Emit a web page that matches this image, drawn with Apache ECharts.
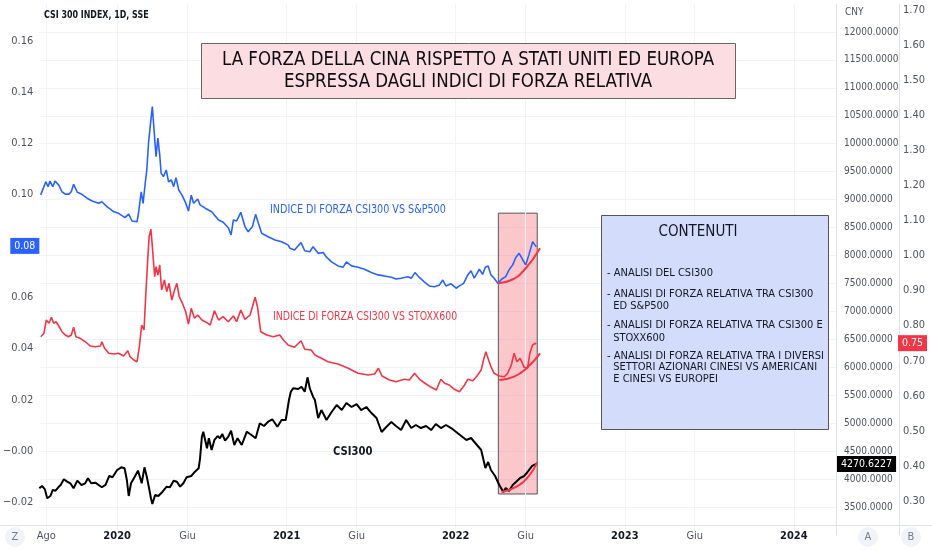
<!DOCTYPE html>
<html>
<head>
<meta charset="utf-8" />
<title>CSI 300 - forza relativa</title>
<script src="https://cdn.jsdelivr.net/npm/echarts@6/dist/echarts.min.js"></script>
<style>
  html, body { margin: 0; padding: 0; background: #fff; }
  #chartmain { width: 932px; height: 550px; }
</style>
</head>
<body>
<div id="chartmain"></div>
<script>
// ---- dati ----
var blueDates = ['2019-07-20','2019-07-31','2019-08-05','2019-08-09','2019-08-15','2019-08-20','2019-08-28','2019-09-04','2019-09-11','2019-09-19',
  '2019-09-24','2019-09-29','2019-10-07','2019-10-17','2019-10-28','2019-11-08','2019-11-22','2019-11-29','2019-12-10','2019-12-25',
  '2020-01-04','2020-01-18','2020-01-26','2020-02-02','2020-02-13','2020-02-16','2020-02-22','2020-02-26','2020-03-02','2020-03-05',
  '2020-03-09','2020-03-12','2020-03-17','2020-03-22','2020-03-25','2020-03-29','2020-04-02','2020-04-05','2020-04-10','2020-04-16',
  '2020-04-21','2020-04-27','2020-05-02','2020-05-07','2020-05-13','2020-05-20','2020-05-27','2020-06-03','2020-06-09','2020-06-14',
  '2020-06-23','2020-06-28','2020-07-09','2020-07-23','2020-08-07','2020-08-17','2020-08-28','2020-09-03','2020-09-08','2020-09-15',
  '2020-09-24','2020-10-03','2020-10-10','2020-10-19','2020-10-26','2020-11-01','2020-11-08','2020-11-22','2020-12-07','2020-12-21',
  '2021-01-04','2021-01-08','2021-01-18','2021-02-01','2021-02-09','2021-02-20','2021-02-27','2021-03-10','2021-03-21','2021-03-28',
  '2021-04-08','2021-04-22','2021-05-03','2021-05-10','2021-05-21','2021-06-04','2021-06-18','2021-07-03','2021-07-17','2021-07-31',
  '2021-08-15','2021-08-25','2021-09-05','2021-09-20','2021-09-27','2021-10-05','2021-10-15','2021-10-25','2021-11-05','2021-11-16',
  '2021-11-27','2021-12-04','2021-12-11','2021-12-22','2022-01-02','2022-01-09','2022-01-18','2022-01-27','2022-02-03','2022-02-10',
  '2022-02-21','2022-02-28','2022-03-06','2022-03-12','2022-03-18','2022-03-25','2022-04-02','2022-04-10','2022-04-19','2022-04-26',
  '2022-05-04','2022-05-11','2022-05-18','2022-05-25','2022-06-01','2022-06-08','2022-06-16','2022-06-21','2022-06-24'];
var blueVals = [0.0999,0.1050,0.1031,0.1053,0.1031,0.1053,0.1037,0.1011,0.1002,0.1002,
  0.1011,0.1040,0.1009,0.1001,0.0986,0.0975,0.0966,0.0972,0.0953,0.0933,
  0.0927,0.0910,0.0924,0.0897,0.0894,0.0927,0.1011,0.0966,0.1050,0.1096,
  0.1206,0.1259,0.1343,0.1220,0.1148,0.1220,0.1154,0.1083,0.1070,0.1096,
  0.1050,0.1057,0.1031,0.1066,0.1018,0.0998,0.0972,0.0936,0.0998,0.0966,
  0.0983,0.0960,0.0947,0.0933,0.0901,0.0892,0.0871,0.0843,0.0901,0.0897,
  0.0931,0.0875,0.0855,0.0875,0.0923,0.0888,0.0849,0.0836,0.0823,0.0816,
  0.0804,0.0791,0.0784,0.0813,0.0781,0.0777,0.0797,0.0771,0.0774,0.0756,
  0.0738,0.0722,0.0717,0.0738,0.0722,0.0717,0.0709,0.0696,0.0687,0.0683,
  0.0678,0.0671,0.0674,0.0680,0.0674,0.0696,0.0676,0.0660,0.0644,0.0641,
  0.0648,0.0667,0.0644,0.0652,0.0635,0.0644,0.0654,0.0687,0.0703,0.0674,
  0.0709,0.0689,0.0717,0.0722,0.0687,0.0674,0.0654,0.0670,0.0680,0.0706,
  0.0726,0.0756,0.0771,0.0748,0.0726,0.0765,0.0816,0.0804,0.0797];

var redDates = ['2019-07-20','2019-07-27','2019-08-01','2019-08-07','2019-08-12','2019-08-17','2019-08-22','2019-08-28','2019-09-04','2019-09-11',
  '2019-09-18','2019-09-24','2019-09-29','2019-10-04','2019-10-13','2019-10-24','2019-11-04','2019-11-15','2019-11-26','2019-11-29',
  '2019-12-05','2019-12-14','2019-12-25','2020-01-04','2020-01-15','2020-01-24','2020-01-29','2020-02-06','2020-02-13','2020-02-18',
  '2020-02-23','2020-02-28','2020-03-03','2020-03-07','2020-03-10','2020-03-14','2020-03-17','2020-03-22','2020-03-25','2020-03-29',
  '2020-04-02','2020-04-06','2020-04-12','2020-04-17','2020-04-22','2020-04-28','2020-05-04','2020-05-09','2020-05-14','2020-05-21',
  '2020-05-28','2020-06-03','2020-06-09','2020-06-16','2020-06-23','2020-07-02','2020-07-13','2020-07-20','2020-07-29','2020-08-07',
  '2020-08-17','2020-08-28','2020-09-08','2020-09-15','2020-09-24','2020-10-03','2020-10-14','2020-10-25','2020-10-30','2020-11-06',
  '2020-11-19','2020-12-03','2020-12-17','2020-12-25','2021-01-04','2021-01-18','2021-02-01','2021-02-09','2021-02-23','2021-03-03',
  '2021-03-17','2021-03-31','2021-04-22','2021-05-14','2021-06-04','2021-06-26','2021-07-10','2021-07-18','2021-07-26','2021-08-11',
  '2021-08-25','2021-09-12','2021-09-23','2021-10-04','2021-10-15','2021-10-29','2021-11-09','2021-11-20','2021-11-30','2021-12-08',
  '2021-12-18','2021-12-29','2022-01-09','2022-01-20','2022-01-27','2022-02-07','2022-02-16','2022-02-25','2022-03-02','2022-03-07',
  '2022-03-13','2022-03-18','2022-03-25','2022-04-05','2022-04-16','2022-04-23','2022-05-01','2022-05-07','2022-05-13','2022-05-20',
  '2022-05-29','2022-06-05','2022-06-10','2022-06-16','2022-06-21','2022-06-24'];
var redVals = [0.7684,0.7781,0.8160,0.8066,0.8237,0.8066,0.8112,0.7989,0.7827,0.7733,
  0.7684,0.7733,0.7952,0.7684,0.7639,0.7542,0.7419,0.7399,0.7419,0.7542,
  0.7354,0.7211,0.7191,0.7211,0.7134,0.7285,0.7114,0.7020,0.6972,0.7399,
  0.8018,0.7875,0.8922,0.9871,1.0536,1.0747,1.0251,0.9395,0.9680,0.9444,
  0.9729,0.9016,0.9301,0.8967,0.9207,0.8731,0.9016,0.9207,0.8825,0.8637,
  0.8397,0.8046,0.8494,0.8209,0.8303,0.8160,0.8084,0.8018,0.8426,0.8160,
  0.8255,0.8112,0.8275,0.8112,0.8446,0.8180,0.8303,0.8808,0.8540,0.7827,
  0.7733,0.7684,0.7733,0.7590,0.7448,0.7382,0.7570,0.7325,0.7305,0.7163,
  0.7068,0.6972,0.6906,0.6783,0.6640,0.6592,0.6621,0.6783,0.6564,0.6450,
  0.6401,0.6470,0.6450,0.6640,0.6470,0.6336,0.6241,0.6165,0.6470,0.6355,
  0.6307,0.6184,0.6116,0.6307,0.6470,0.6430,0.6564,0.6735,0.7020,0.7257,
  0.7020,0.6829,0.6640,0.6564,0.6544,0.6640,0.6877,0.7211,0.6972,0.7068,
  0.6812,0.6783,0.7211,0.7448,0.7496,0.7475];

var csiDates = ['2019-07-17','2019-07-23','2019-07-29','2019-08-03','2019-08-10','2019-08-15','2019-08-21','2019-08-27','2019-09-01','2019-09-08',
  '2019-09-15','2019-09-22','2019-09-29','2019-10-07','2019-10-16','2019-10-24','2019-10-30','2019-11-06','2019-11-15','2019-11-22',
  '2019-11-29','2019-12-07','2019-12-15','2019-12-22','2020-01-01','2020-01-10','2020-01-17','2020-01-22','2020-01-26','2020-01-31',
  '2020-02-08','2020-02-15','2020-02-20','2020-02-23','2020-02-29','2020-03-05','2020-03-10','2020-03-14','2020-03-17','2020-03-23',
  '2020-03-30','2020-04-08','2020-04-17','2020-04-24','2020-05-02','2020-05-09','2020-05-16','2020-05-23','2020-05-30','2020-06-09',
  '2020-06-17','2020-06-25','2020-06-28','2020-07-02','2020-07-05','2020-07-09','2020-07-13','2020-07-17','2020-07-23','2020-07-29',
  '2020-08-05','2020-08-10','2020-08-15','2020-08-21','2020-08-28','2020-09-03','2020-09-10','2020-09-17','2020-09-26','2020-10-07',
  '2020-10-17','2020-10-26','2020-11-04','2020-11-13','2020-11-22','2020-12-01','2020-12-12','2020-12-21','2020-12-30','2021-01-06',
  '2021-01-10','2021-01-15','2021-01-26','2021-02-02','2021-02-09','2021-02-15','2021-02-20','2021-02-27','2021-03-03','2021-03-10',
  '2021-03-17','2021-03-28','2021-04-08','2021-04-19','2021-04-30','2021-05-10','2021-05-21','2021-06-01','2021-06-11','2021-06-22',
  '2021-07-03','2021-07-14','2021-07-25','2021-08-04','2021-08-15','2021-08-25','2021-09-05','2021-09-16','2021-09-27','2021-10-07',
  '2021-10-18','2021-10-29','2021-11-09','2021-11-19','2021-11-30','2021-12-11','2021-12-22','2022-01-02','2022-01-13','2022-01-24',
  '2022-02-03','2022-02-14','2022-02-25','2022-03-06','2022-03-12','2022-03-18','2022-03-27','2022-04-05','2022-04-14','2022-04-19',
  '2022-04-26','2022-05-04','2022-05-11','2022-05-20','2022-05-29','2022-06-05','2022-06-15','2022-06-24'];
var csiVals = [3836,3877,3818,3657,3698,3806,3793,3854,3895,3997,
  3954,3925,3836,3972,3895,3925,4015,3925,3936,3895,
  3854,3895,4056,4033,4163,4211,4194,3984,3698,3925,
  4043,4151,4015,3925,4211,4043,3836,3657,3555,3716,
  3698,3775,3865,3854,3972,3954,3865,3925,4033,4056,
  4133,4194,4372,4759,4848,4848,4551,4730,4521,4700,
  4771,4730,4807,4687,4759,4866,4610,4730,4610,4848,
  4789,4730,4998,4950,5027,5070,4937,5057,5057,5415,
  5563,5624,5612,5653,5563,5821,5624,5474,5415,5093,
  5236,5057,5200,5325,5236,5361,5290,5343,5236,5290,
  5182,5093,4843,4932,5021,4950,4878,5057,4914,4968,
  4914,4950,4878,4986,4914,4968,4914,4843,4771,4700,
  4735,4628,4521,4199,4306,4163,4056,3895,3770,3841,
  3788,3895,3949,4020,4056,4127,4235,4270.6227];

// archi rossi disegnati a mano sul grafico
var blueArcDates = ['2022-04-02','2022-05-01','2022-05-29','2022-07-02'];
var blueArcVals = [0.0654,0.0667,0.0706,0.0791];
var redArcDates = ['2022-04-05','2022-05-07','2022-06-05','2022-07-02'];
var redArcVals = [0.6450,0.6544,0.6812,0.7211];
var csiArcDates = ['2022-04-10','2022-05-11','2022-06-08','2022-06-26'];
var csiArcVals = [3770,3859,4056,4306];

// rettangolo evidenziato (date, valori CNY)
var boxDates = ['2022-04-03','2022-06-26'];
var boxCny = [3734, 8758];

// etichette assi
var xTicks = ['2019-08-01','2020-01-01','2020-06-01','2021-01-01','2021-06-01','2022-01-01','2022-06-01','2023-01-01','2023-06-01','2024-01-01'];
var monthNames = {5: 'Giu', 7: 'Ago'};
var leftTicks = [-0.02, 0, 0.02, 0.04, 0.06, 0.08, 0.10, 0.12, 0.14, 0.16];
var rightTicks = [0.3, 0.4, 0.5, 0.6, 0.7, 0.8, 0.9, 1.0, 1.1, 1.2, 1.3, 1.4, 1.5, 1.6, 1.7];

var FONT = "'DejaVu Sans Condensed', 'Liberation Sans', sans-serif";
var BLUE = '#2962ff', RED = '#f23645', INK = '#131722', GREY = '#50535e';

function ts(s) {
  var p = s.split('-');
  return new Date(+p[0], +p[1] - 1, +p[2]).getTime();
}
function pairs(d, v) {
  return d.map(function (x, i) { return [ts(x), v[i]]; });
}

var myChart = echarts.init(document.getElementById('chartmain'));

var lastBlue = blueVals[blueVals.length - 1];
var lastRed = redVals[redVals.length - 1];
var lastCsi = csiVals[csiVals.length - 1];

var gridLines = xTicks.map(function (d) {
  return { xAxis: ts(d), lineStyle: { color: '#f0f3fa', width: 1, type: 'solid' }, label: { show: false } };
});

// etichetta del prezzo sull'asse (riga invisibile + label)
function priceTag(v, txt, bg, pos, dist) {
  return {
    yAxis: v, lineStyle: { color: 'rgba(0,0,0,0)', width: 0 },
    label: {
      show: true, position: pos, distance: dist, formatter: txt,
      backgroundColor: bg, color: '#ffffff', padding: [3, 4, 2, 4], fontSize: 10.5, fontFamily: FONT
    }
  };
}

function arcSeries(d, v, axis) {
  return {
    type: 'line', yAxisIndex: axis, data: pairs(d, v), smooth: true,
    showSymbol: false, silent: true, z: 4,
    lineStyle: { color: RED, width: 2 }
  };
}

// testo compresso in orizzontale (il font originale e' piu' stretto)
function note(x, y, txt, o) {
  o = o || {};
  return {
    type: 'text', x: x, y: y, scaleX: o.sx || 1, z: 20, silent: true,
    style: {
      text: txt, x: 0, y: 0, fill: o.color || INK, fontSize: o.size || 12,
      fontWeight: o.weight || 'normal', fontFamily: FONT, lineHeight: o.lh,
      textAlign: o.align || 'left', textVerticalAlign: o.va || 'middle'
    }
  };
}

var option = {
  animation: false,
  backgroundColor: '#ffffff',
  textStyle: { fontFamily: FONT },
  grid: { left: 37, right: 96, top: 4, bottom: 15 },
  xAxis: {
    // asse dei tempi come valore (timestamp) per avere le etichette personalizzate
    type: 'value', min: ts('2019-07-17'), max: ts('2024-04-01'),
    offset: -10,
    axisLine: { show: false }, axisTick: { show: false }, splitLine: { show: false },
    axisLabel: {
      customValues: xTicks.map(ts), margin: 6, fontSize: 11, color: GREY, fontFamily: FONT,
      formatter: function (v) {
        var d = new Date(v);
        if (d.getMonth() === 0) return '{y|' + d.getFullYear() + '}';
        return monthNames[d.getMonth()] || '';
      },
      rich: { y: { fontWeight: 'bold', color: INK, fontSize: 11, fontFamily: FONT } }
    }
  },
  yAxis: [
    { // indice di forza vs S&P500
      type: 'value', position: 'left', min: -0.0327, max: 0.1743,
      axisLine: { show: false }, axisTick: { show: false }, splitLine: { show: false },
      axisLabel: {
        customValues: leftTicks, margin: 6, fontSize: 11, color: GREY, fontFamily: FONT,
        formatter: function (v) { return Math.abs(v) < 1e-9 ? '\u22120.00' : v.toFixed(2).replace('-', '\u2212'); }
      }
    },
    { // CSI300 in CNY
      type: 'value', position: 'right', min: 3000, max: 12500, interval: 500,
      axisLine: { show: true, lineStyle: { color: '#e0e3eb' } }, axisTick: { show: false },
      splitLine: { show: true, showMinLine: false, showMaxLine: false, lineStyle: { color: '#f0f3fa' } },
      axisLabel: {
        margin: 8, fontSize: 10, color: GREY, fontFamily: FONT,
        showMinLabel: false, showMaxLabel: false,
        formatter: function (v) { return v.toFixed(4); }
      }
    },
    { // indice di forza vs STOXX600
      type: 'value', position: 'right', offset: 63, min: 0.2030, max: 1.7171,
      axisLine: { show: true, lineStyle: { color: '#e0e3eb' } }, axisTick: { show: false }, splitLine: { show: false },
      axisLabel: {
        customValues: rightTicks, margin: 4, fontSize: 11, color: GREY, fontFamily: FONT,
        formatter: function (v) { return v.toFixed(2); }
      }
    }
  ],
  series: [
    {
      name: 'INDICE DI FORZA CSI300 VS S&P500', type: 'line', yAxisIndex: 0,
      data: pairs(blueDates, blueVals), showSymbol: false, z: 3,
      lineStyle: { color: BLUE, width: 1.6 },
      markLine: {
        silent: true, symbol: 'none', z: 1,
        data: gridLines.concat([priceTag(lastBlue, lastBlue.toFixed(2), BLUE, 'start', 0)])
      }
    },
    {
      name: 'INDICE DI FORZA CSI300 VS STOXX600', type: 'line', yAxisIndex: 2,
      data: pairs(redDates, redVals), showSymbol: false, z: 3,
      lineStyle: { color: RED, width: 1.6 },
      markLine: {
        silent: true, symbol: 'none',
        data: [priceTag(lastRed, lastRed.toFixed(2), RED, 'end', 62)]
      }
    },
    {
      name: 'CSI300', type: 'line', yAxisIndex: 1,
      data: pairs(csiDates, csiVals), showSymbol: false, z: 3,
      lineStyle: { color: '#000000', width: 2 },
      markArea: {
        silent: true, z: 1,
        itemStyle: { color: 'rgba(242,54,69,0.28)', borderColor: '#555', borderWidth: 1 },
        data: [[{ xAxis: ts(boxDates[0]), yAxis: boxCny[0] }, { xAxis: ts(boxDates[1]), yAxis: boxCny[1] }]]
      },
      markLine: {
        silent: true, symbol: 'none',
        data: [priceTag(lastCsi, lastCsi.toFixed(4), '#000000', 'end', 1)]
      }
    },
    arcSeries(blueArcDates, blueArcVals, 0),
    arcSeries(redArcDates, redArcVals, 2),
    arcSeries(csiArcDates, csiArcVals, 1)
  ],
  graphic: [
    { type: 'line', z: 15, shape: { x1: 0, y1: 525.5, x2: 932, y2: 525.5 }, style: { stroke: '#e0e3eb', lineWidth: 1 }, silent: true },
    note(44, 15, 'CSI 300 INDEX, 1D, SSE', { size: 10.5, weight: 'bold', sx: 0.84 }),
    note(845, 12, 'CNY', { size: 10, color: GREY }),
    // titolo
    { type: 'rect', z: 18, shape: { x: 201.5, y: 43.5, width: 534, height: 55 }, style: { fill: '#fcdde1', stroke: '#666', lineWidth: 1 } },
    note(468, 71, 'LA FORZA DELLA CINA RISPETTO A STATI UNITI ED EUROPA\nESPRESSA DAGLI INDICI DI FORZA RELATIVA',
      { size: 20, lh: 22, align: 'center', sx: 0.926, color: '#0b0d12' }),
    // riquadro contenuti
    { type: 'rect', z: 18, shape: { x: 601.5, y: 215.5, width: 227, height: 214 }, style: { fill: '#d3dcfb', stroke: '#555', lineWidth: 1 } },
    note(698, 232, 'CONTENUTI', { size: 15, align: 'center' }),
    note(607, 267.5, '- ANALISI DEL CSI300', { size: 11, va: 'top', lh: 12 }),
    note(607, 287.5, '- ANALISI DI FORZA RELATIVA TRA CSI300\n  ED S&P500', { size: 11, va: 'top', lh: 12.5 }),
    note(607, 319, '- ANALISI DI FORZA RELATIVA TRA CSI300 E\n  STOXX600', { size: 11, va: 'top', lh: 12.5 }),
    note(607, 350, '- ANALISI DI FORZA RELATIVA TRA I DIVERSI\n  SETTORI AZIONARI CINESI VS AMERICANI\n  E CINESI VS EUROPEI', { size: 11, va: 'top', lh: 11.5 }),
    // etichette delle serie
    note(270, 210, 'INDICE DI FORZA CSI300 VS S&P500', { color: BLUE, sx: 0.89 }),
    note(273, 317, 'INDICE DI FORZA CSI300 VS STOXX600', { color: RED, sx: 0.87 }),
    note(333, 452, 'CSI300', { weight: 'bold', sx: 0.93 }),
    // pulsanti in basso
    { type: 'circle', z: 15, shape: { cx: 15, cy: 537, r: 10 }, style: { fill: '#f0f3fa' } },
    note(15, 537, 'Z', { size: 11, color: '#787b86', align: 'center' }),
    { type: 'circle', z: 15, shape: { cx: 868, cy: 537, r: 10 }, style: { fill: '#f0f3fa' } },
    note(868, 537, 'A', { size: 11, color: '#787b86', align: 'center' }),
    { type: 'circle', z: 15, shape: { cx: 911, cy: 537, r: 10 }, style: { fill: '#f0f3fa' } },
    note(911, 537, 'B', { size: 11, color: '#787b86', align: 'center' })
  ]
};
myChart.setOption(option);
</script>
</body>
</html>
